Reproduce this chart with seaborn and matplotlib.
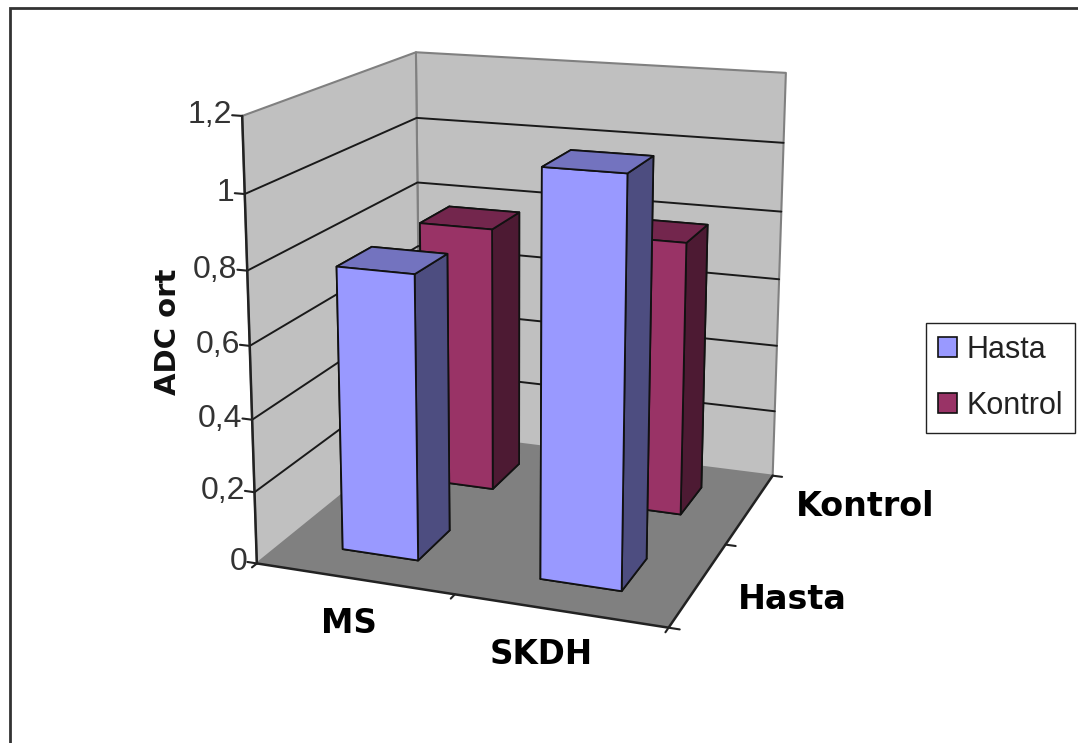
#!/usr/bin/env python3
# -*- coding: utf-8 -*-
import numpy as np
import seaborn as sns
import matplotlib
matplotlib.use('Agg')
import matplotlib.pyplot as plt
from matplotlib.patches import Patch, Rectangle
from mpl_toolkits.mplot3d.art3d import Poly3DCollection

#%% data
categories = ['MS', 'SKDH']
series_names = ['Hasta', 'Kontrol']
hasta = [0.785, 1.09]
kontrol = [0.775, 0.785]
z_ticks = [0, 0.2, 0.4, 0.6, 0.8, 1, 1.2]
z_labels = ['0', '0,2', '0,4', '0,6', '0,8', '1', '1,2']

W, H = 1078, 743

# front, side and top face colours per series
faces = {'Hasta': ['#9999FF', '#4D4D80', '#7373BF'],
         'Kontrol': ['#993366', '#4D1A33', '#73264D']}

#%% view calibration: where box corners sit on the canvas (x, depth, z) -> (px, py)
view_pts = [((0, 0, 0), (258, 564)), ((2, 0, 0), (668, 628)), ((2, 2, 0), (774, 475)),
            ((0, 2, 0), (418, 431)), ((0, 0, 1.2), (240, 117)), ((0, 2, 1.2), (417, 52)),
            ((2, 2, 1.2), (786, 72)), ((2, 2, 1), (783, 144)), ((2, 2, 0.8), (781, 212)),
            ((2, 2, 0.6), (779, 279)), ((0, 0, 1), (245, 192)), ((0, 0, 0.8), (248, 271)),
            ((0, 0, 0.2), (255, 492)), ((0, 2, 1), (417, 118)), ((0, 2, 0.8), (418, 183))]

rows = []
for (x, y, z), (px, py) in view_pts:
    u, v = px / 1000, (H - py) / 1000
    rows.append([x, y, z, 1, 0, 0, 0, 0, -u * x, -u * y, -u * z, -u])
    rows.append([0, 0, 0, 0, x, y, z, 1, -v * x, -v * y, -v * z, -v])
cam = np.linalg.svd(np.array(rows))[2][-1].reshape(3, 4)
if cam[2] @ np.array([1, 1, 0.5, 1]) < 0:
    cam = -cam
cam[:2] *= 1000


def to_fig(x, y, z):
    # box coordinates to figure fractions, for the text labels
    p = cam @ np.array([x, y, z, 1])
    return p[0] / p[2] / W, p[1] / p[2] / H


#%% figure
sns.set_theme(style='white')
plt.rcParams['font.family'] = ['Liberation Sans', 'DejaVu Sans']
fig = plt.figure(figsize=(W / 100, H / 100), dpi=100, facecolor='white')
ax = fig.add_axes([0, 0, 1, 1], projection='3d', facecolor='none')
ax.set_axis_off()
ax.computed_zorder = False


def fitted_proj():
    to_data = ax.transData.inverted().get_matrix()
    top = to_data @ cam
    return np.array([top[0], top[1], [0, 0, 0, -1], top[2]])


ax.get_proj = fitted_proj

#%% walls and floor
x_max, y_max, z_max = len(categories), len(series_names), z_ticks[-1]
ax.add_collection3d(Poly3DCollection([[(0, 0, 0), (0, y_max, 0), (0, y_max, z_max), (0, 0, z_max)],
                                      [(0, y_max, 0), (x_max, y_max, 0), (x_max, y_max, z_max), (0, y_max, z_max)]],
                                     facecolors='#C0C0C0', edgecolors='#808080', linewidths=1.5, zorder=1))
ax.add_collection3d(Poly3DCollection([[(0, 0, 0), (x_max, 0, 0), (x_max, y_max, 0), (0, y_max, 0)]],
                                     facecolors='#808080', edgecolors='none', zorder=2))

for tick in z_ticks[1:-1]:
    ax.plot([0, 0, x_max], [0, y_max, y_max], [tick, tick, tick], color='#1a1a1a', lw=1.4, zorder=3)

#%% axis lines and labels
ax.plot([0, 0], [0, 0], [0, z_max], color='#222222', lw=1.8, zorder=4)
ax.plot([0, x_max, x_max], [0, 0, y_max], [0, 0, 0], color='#222222', lw=1.8, zorder=4)

for tick, lab in zip(z_ticks, z_labels):
    ax.plot([-0.05, 0], [0, 0], [tick, tick], color='#222222', lw=1.5, zorder=4)
    fx, fy = to_fig(-0.05, 0, tick)
    fig.text(fx, fy, lab, ha='right', va='center', fontsize=23, color='#333333')
for i in range(x_max + 1):
    ax.plot([i, i], [0, -0.05], [0, 0], color='#222222', lw=1.5, zorder=4)
for i in range(y_max + 1):
    ax.plot([x_max, x_max + 0.05], [i, i], [0, 0], color='#222222', lw=1.5, zorder=4)

for i, cat in enumerate(categories):
    fx, fy = to_fig(0.68 + 0.89 * i, -0.45, 0)
    fig.text(fx, fy, cat, ha='center', va='center', fontsize=23.5, fontweight='bold',
             family='DejaVu Sans', color='black')
for i, name in enumerate(series_names):
    fx, fy = to_fig(x_max + 0.21, 0.4 + 1.21 * i, 0)
    fig.text(fx, fy, name, ha='left', va='center', fontsize=24, fontweight='bold',
             family='DejaVu Sans', color='black')
fig.text(168 / W, 1 - 332 / H, 'ADC ort', rotation=90, ha='center', va='center',
         fontsize=21, fontweight='bold', family='DejaVu Sans', color='#111111')

#%% bars, back row first
bar_w, bar_d = 0.39, 0.40
order = 10
for j in [1, 0]:
    name = series_names[j]
    vals = kontrol if name == 'Kontrol' else hasta
    front, side, top = faces[name]
    for i, val in enumerate(vals):
        # bar3d face order: bottom, top, front, back, left, right
        ax.bar3d(i + (1 - bar_w) / 2, j + (1 - bar_d) / 2, 0, bar_w, bar_d, val,
                 color=[side, top, front, side, side, side], shade=False,
                 edgecolor='#111111', linewidth=1.3, zorder=order)
        order += 1

#%% legend and outer frame
handles = [Patch(facecolor=faces[n][0], edgecolor='#111111', linewidth=1.2) for n in series_names]
fig.legend(handles, series_names, loc='center left', bbox_to_anchor=(926 / W, 1 - 378 / H), fontsize=22,
           frameon=True, fancybox=False, edgecolor='#222222', facecolor='white', framealpha=1,
           handlelength=0.62, handleheight=0.62, handletextpad=0.33, labelspacing=0.85, borderpad=0.38,
           borderaxespad=0, labelcolor='#222222')
fig.add_artist(Rectangle((10 / W, -0.01), (W + 10) / W, 1 - 8 / H + 0.01, transform=fig.transFigure,
                         facecolor='none', edgecolor='#333333', linewidth=2, clip_on=False))

fig.savefig('out.png', dpi=100)
